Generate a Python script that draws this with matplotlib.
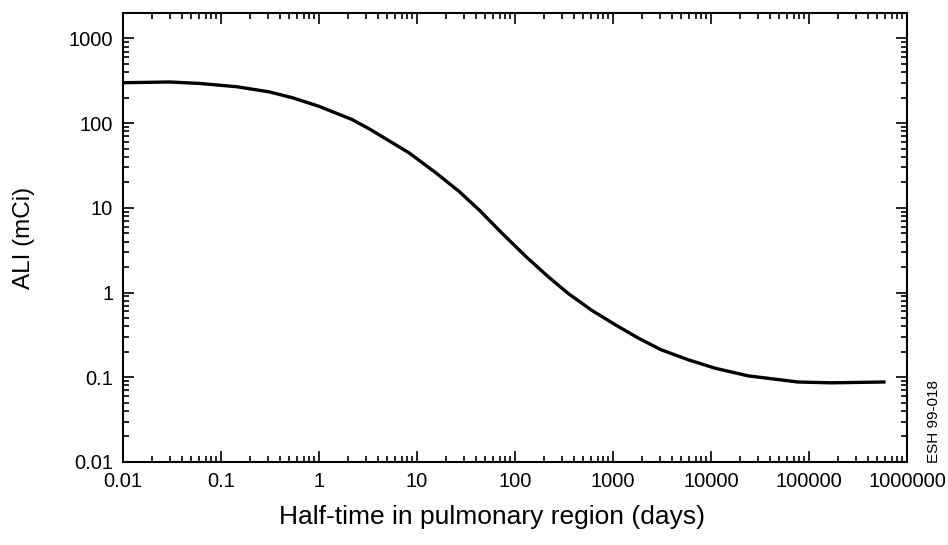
import numpy as np
import matplotlib.pyplot as plt
from matplotlib.ticker import LogLocator, FixedLocator, NullFormatter

plt.rcParams['font.family'] = ['Liberation Sans', 'DejaVu Sans']

# half-time (days) vs ALI (mCi)
half_time = [0.01, 0.03, 0.061, 0.145, 0.31, 0.54, 1.0, 2.19, 3.26, 8.3,
             15.6, 26.8, 42.9, 73.4, 129, 221, 352, 604, 1060, 1815,
             3110, 5860, 11000, 23900, 77000, 167000, 605000]
ali = [300, 306, 294, 269, 234, 199, 158, 110, 85.6, 44.6,
       25.9, 15.7, 9.5, 5.05, 2.67, 1.52, 0.97, 0.62, 0.416, 0.29,
       0.211, 0.161, 0.128, 0.104, 0.088, 0.086, 0.088]

xticks = [0.01, 0.1, 1, 10, 100, 1000, 10000, 100000, 1000000]
xlabels = ['0.01', '0.1', '1', '10', '100', '1000', '10000', '100000', '1000000']
yticks = [0.01, 0.1, 1, 10, 100, 1000]
ylabels = ['0.01', '0.1', '1', '10', '100', '1000']

fig = plt.figure(figsize=(9.48, 5.45), dpi=100)
ax = fig.add_axes([0.1297, 0.1523, 0.827, 0.824])

ax.plot(half_time, ali, color='black', lw=2.4, solid_capstyle='butt',
        solid_joinstyle='round')

ax.set_xscale('log')
ax.set_yscale('log')
ax.set_xlim(0.01, 1000000)
ax.set_ylim(0.01, 2000)

ax.xaxis.set_major_locator(FixedLocator(xticks))
ax.set_xticklabels(xlabels)
ax.yaxis.set_major_locator(FixedLocator(yticks))
ax.set_yticklabels(ylabels)
ax.xaxis.set_minor_locator(LogLocator(base=10, subs=np.arange(2, 10), numticks=20))
ax.yaxis.set_minor_locator(LogLocator(base=10, subs=np.arange(2, 10), numticks=20))
ax.xaxis.set_minor_formatter(NullFormatter())
ax.yaxis.set_minor_formatter(NullFormatter())

ax.tick_params(which='both', direction='in', top=True, right=True, width=1.2)
ax.tick_params(which='major', length=8, labelsize=14.5, pad=7)
ax.tick_params(which='minor', length=4)
for s in ax.spines.values():
    s.set_linewidth(1.5)

ax.set_xlabel('Half-time in pulmonary region (days)', fontsize=19)
ax.xaxis.set_label_coords(0.471, -0.095)
ax.set_ylabel('ALI (mCi)', fontsize=17.5, labelpad=24)

fig.text(0.985, 0.150, 'ESH 99-018', rotation=90, fontsize=11,
         ha='center', va='bottom')

fig.savefig('out.png', dpi=100)
